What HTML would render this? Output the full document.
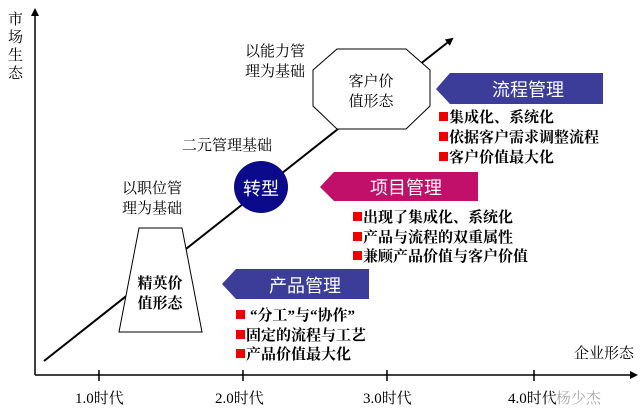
<!DOCTYPE html>
<html><head><meta charset="utf-8"><style>
body{margin:0;background:#fff;}
svg text{font-family:"Liberation Serif","Noto Serif CJK SC",serif;}
.b{font-size:15px;font-weight:bold;fill:#000;}
.l{font-size:15px;fill:#000;}
.w{font-size:18px;fill:#fff;font-family:"Liberation Sans","Noto Sans CJK SC",sans-serif;}
</style></head><body>
<svg width="640" height="412" viewBox="0 0 640 412" xmlns="http://www.w3.org/2000/svg">
<defs><marker id="a" markerWidth="8" markerHeight="8" refX="6" refY="4" orient="auto" markerUnits="userSpaceOnUse"><path d="M0,0 L8,4 L0,8 Z" fill="#000"/></marker></defs>
<!-- axes -->
<line x1="35" y1="375" x2="35" y2="10" stroke="#000" stroke-width="1.5" marker-end="url(#a)"/>
<line x1="35" y1="375" x2="636" y2="375" stroke="#000" stroke-width="1.5" marker-end="url(#a)"/>
<g stroke="#000" stroke-width="1.5"><line x1="99" y1="370" x2="99" y2="381"/><line x1="243" y1="370" x2="243" y2="381"/><line x1="387" y1="370" x2="387" y2="381"/><line x1="534" y1="370" x2="534" y2="381"/></g>
<g class="l" font-size="14"><text x="8" y="24">市</text><text x="8" y="42">场</text><text x="8" y="60">生</text><text x="8" y="78">态</text></g>
<text x="574" y="358" class="l" font-size="14">企业形态</text>
<text x="75" y="403" class="l">1.0时代</text>
<text x="215" y="403" class="l">2.0时代</text>
<text x="363" y="403" class="l">3.0时代</text>
<text x="508" y="403" class="l">4.0时代</text>
<text x="548" y="403" class="l" fill="#999" style="fill:#aaa">/ 杨少杰</text>
<!-- diagonal -->
<line x1="44" y1="361" x2="452" y2="39" stroke="#000" stroke-width="2" marker-end="url(#a)"/>
<!-- trapezoid -->
<polygon points="139,228 182,228 202,332 119,332" fill="#fff" stroke="#000" stroke-width="1"/>
<text x="160" y="288" class="b" text-anchor="middle">精英价</text>
<text x="160" y="308" class="b" text-anchor="middle">值形态</text>
<!-- circle -->
<ellipse cx="261" cy="187" rx="27" ry="26" fill="#0a0a8a"/>
<text x="261" y="195" class="w" font-size="21" text-anchor="middle">转型</text>
<!-- octagon -->
<polygon points="337,49 406,49 430,70 430,106 406,129 337,129 313,106 313,70" fill="#fff" stroke="#000" stroke-width="1"/>
<text x="371" y="86" class="l" text-anchor="middle">客户价</text>
<text x="371" y="106" class="l" text-anchor="middle">值形态</text>
<!-- labels -->
<text x="245" y="56" class="l">以能力管</text>
<text x="245" y="76" class="l">理为基础</text>
<text x="182" y="150" class="l">二元管理基础</text>
<text x="122" y="193" class="l">以职位管</text>
<text x="122" y="213" class="l">理为基础</text>
<!-- arrows -->
<polygon points="436,89 450,73 603,73 603,104 450,104" fill="#3b3d99"/>
<text x="528" y="96" class="w" text-anchor="middle">流程管理</text>
<polygon points="320,187 334,172 478,172 478,201 334,201" fill="#c0106a"/>
<text x="406" y="194" class="w" text-anchor="middle">项目管理</text>
<polygon points="222,284 236,269 369,269 369,299 236,299" fill="#3b3d99"/>
<text x="305" y="292" class="w" text-anchor="middle">产品管理</text>
<!-- bullets -->
<g fill="#e00">
<rect x="439" y="112" width="9" height="9"/><rect x="439" y="132" width="9" height="9"/><rect x="439" y="152" width="9" height="9"/>
<rect x="353" y="212" width="9" height="9"/><rect x="353" y="232" width="9" height="9"/><rect x="353" y="251" width="9" height="9"/>
<rect x="236" y="310" width="9" height="9"/><rect x="236" y="330" width="9" height="9"/><rect x="236" y="349" width="9" height="9"/>
</g>
<text x="449" y="122" class="b">集成化、系统化</text>
<text x="449" y="142" class="b">依据客户需求调整流程</text>
<text x="449" y="162" class="b">客户价值最大化</text>
<text x="363" y="222" class="b">出现了集成化、系统化</text>
<text x="363" y="242" class="b">产品与流程的双重属性</text>
<text x="363" y="261" class="b">兼顾产品价值与客户价值</text>
<text x="250" y="320" class="b">“分工”与“协作”</text>
<text x="246" y="340" class="b">固定的流程与工艺</text>
<text x="246" y="359" class="b">产品价值最大化</text>
</svg>
</body></html>
